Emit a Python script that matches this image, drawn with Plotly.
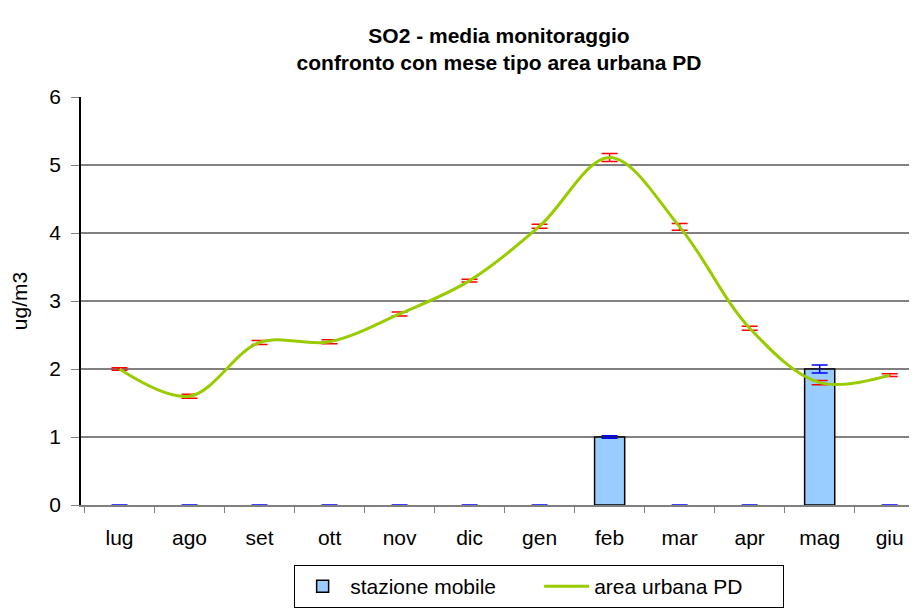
import plotly.graph_objects as go

months = ["lug", "ago", "set", "ott", "nov", "dic", "gen", "feb", "mar", "apr", "mag", "giu"]
stazione_mobile = [0, 0, 0, 0, 0, 0, 0, 1.0, 0, 0, 2.0, 0]
stazione_err = [0, 0, 0, 0, 0, 0, 0, 0.02, 0, 0, 0.06, 0]
area_urbana = [2.0, 1.6, 2.39, 2.4, 2.81, 3.3, 4.1, 5.11, 4.09, 2.6, 1.8, 1.91]
area_err = [0.02, 0.03, 0.03, 0.03, 0.03, 0.02, 0.03, 0.06, 0.05, 0.03, 0.03, 0.02]

FONT = "Liberation Sans, Arial, sans-serif"
FS = 21

# page body has an 8px margin: shrink figure so it fills the 917x610 window
W, H = 909, 602
L, T, B = 73, 89, 105

bar_outline = [1.5 if v > 0 else 0 for v in stazione_mobile]
BAR_FILL = "#99CCFF"

fig = go.Figure()
fig.add_trace(go.Bar(
    x=months, y=stazione_mobile, name="stazione mobile", showlegend=False,
    legendgroup="sm",
    marker=dict(color=BAR_FILL, line=dict(color="black", width=bar_outline)),
    width=0.43,
    error_y=dict(type="data", array=stazione_err, visible=True,
                 color="#0000FF", thickness=1.5, width=8),
))
# legend-only entry (keeps outline on the legend swatch)
fig.add_trace(go.Bar(
    x=[None], y=[None], name="stazione mobile", legendgroup="sm",
    marker=dict(color=BAR_FILL, line=dict(color="black", width=1.5)),
))
fig.add_trace(go.Scatter(
    x=months, y=area_urbana, name="area urbana PD", mode="lines",
    line=dict(color="#99CC00", width=3, shape="spline", smoothing=1),
    error_y=dict(type="data", array=area_err, visible=True,
                 color="#FF0000", thickness=1.5, width=8),
))

fig.update_layout(
    width=W, height=H,
    margin=dict(l=L, r=0, t=T, b=B),
    paper_bgcolor="white", plot_bgcolor="white",
    font=dict(family=FONT, size=FS, color="black"),
    title=dict(
        text="<b>SO2 - media monitoraggio<br>confronto con mese tipo area urbana PD</b>",
        x=(L + W) / 2 / W, xanchor="center",
        yref="container", y=(H - 35) / H, yanchor="top",
        font=dict(family=FONT, size=21, color="black"),
    ),
    showlegend=True,
    legend=dict(
        orientation="h", x=0.548, xanchor="center",
        yref="container", y=(H - 557) / H, yanchor="top",
        bordercolor="black", borderwidth=1, bgcolor="white",
        font=dict(family=FONT, size=FS), traceorder="normal",
        itemwidth=45, entrywidth=184, entrywidthmode="pixels",
    ),
    barmode="overlay",
)
fig.update_xaxes(
    type="category", categoryarray=months, categoryorder="array",
    range=[-0.55, 11.39], automargin=False,
    showline=True, linecolor="#808080", linewidth=1.5,
    ticks="outside", tickson="boundaries", ticklen=6, tickcolor="#808080",
    showgrid=False, ticklabelstandoff=13,
    tickfont=dict(family=FONT, size=FS),
)
fig.update_yaxes(
    range=[0, 6], dtick=1, automargin=False,
    showline=True, linecolor="black", linewidth=1.5,
    ticks="outside", ticklen=8, tickcolor="#808080",
    showgrid=True, gridcolor="#808080", gridwidth=1.5,
    zeroline=False,
    title=dict(text="ug/m3", font=dict(family=FONT, size=FS), standoff=17),
    tickfont=dict(family=FONT, size=FS),
    ticklabelstandoff=6,
)
fig.write_html("out.html")
